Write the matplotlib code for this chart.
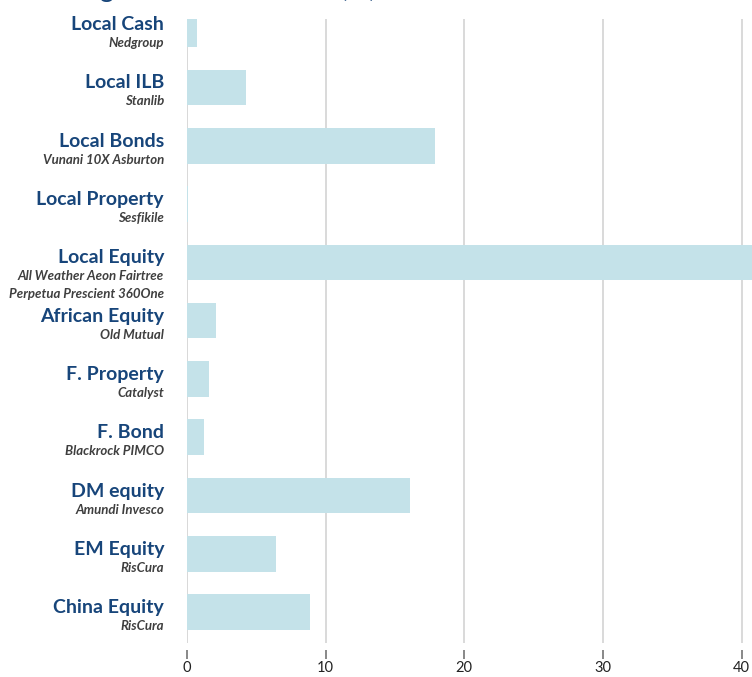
"""Asset class allocation bar chart with manager sub-labels."""
import matplotlib
matplotlib.use('Agg')
import matplotlib.pyplot as plt

# ---------- data ----------
asset_classes = ['Local Cash', 'Local ILB', 'Local Bonds', 'Local Property', 'Local Equity',
                 'African Equity', 'F. Property', 'F. Bond', 'DM equity', 'EM Equity',
                 'China Equity']
managers = [['Nedgroup'], ['Stanlib'], ['Vunani 10X Asburton'], ['Sesfikile'],
            ['All Weather Aeon Fairtree', 'Perpetua Prescient 360One'],
            ['Old Mutual'], ['Catalyst'], ['Blackrock PIMCO'], ['Amundi Invesco'],
            ['RisCura'], ['RisCura']]
weights = [0.7, 4.25, 17.9, 0.05, 40.8, 2.1, 1.6, 1.2, 16.1, 6.4, 8.9]
x_ticks = [0, 10, 20, 30, 40]

BAR = '#c4e2e9'
NAVY = '#17457a'
GREY = '#3f3f3f'
GRID = '#d9d9d9'

plt.rcParams['font.family'] = ['Lato', 'DejaVu Sans']

W, H = 752, 677
PT = 72 / 100  # points per pixel
fig = plt.figure(figsize=(W / 100, H / 100), dpi=100)
# axes: x=0 at px 187, top at px 19, bottom at px 643
ax = fig.add_axes([187 / W, 1 - 643 / H, (W - 187) / W, (643 - 19) / H])

pos = list(range(len(asset_classes)))
ax.barh(pos, weights, height=0.61, color=BAR, zorder=2)

ax.set_xlim(0, 40.75)
ax.set_ylim(10.53, -0.175)
ax.set_xticks(x_ticks)
ax.set_yticks([])
ax.grid(axis='x', color=GRID, linewidth=1.4, zorder=0)
ax.axvline(0, color=GRID, linewidth=1.4, zorder=0)
for s in ['top', 'right', 'left']:
    ax.spines[s].set_visible(False)
ax.spines['bottom'].set_color('none')
ax.spines['bottom'].set_position(('outward', 7 * PT))
ax.tick_params(axis='x', length=9 * PT, width=1.3, color='#7f7f7f', labelsize=10.5,
               labelcolor='#222222', pad=1.5)

# labels to the left of each bar (offsets in pixels from bar centre)
for i, (name, mgrs) in enumerate(zip(asset_classes, managers)):
    ax.annotate(name, xy=(0, i), xycoords=('axes fraction', 'data'),
                xytext=(-23 * PT, -1 * PT), textcoords='offset points',
                ha='right', va='baseline', fontsize=14, fontweight='bold', color=NAVY)
    for k, m in enumerate(mgrs):
        ax.annotate(m, xy=(0, i), xycoords=('axes fraction', 'data'),
                    xytext=(-23 * PT, -(18 + 18 * k) * PT), textcoords='offset points',
                    ha='right', va='baseline', fontsize=9.5, fontweight='bold',
                    fontstyle='italic', color=GREY)

# title sits mostly above the visible area
fig.text(28 / W, 1 + 3 / H, 'Strategic Asset Allocation (%)', ha='left', va='baseline',
         fontsize=19.5, color=NAVY)

fig.savefig('out.png', dpi=100)
